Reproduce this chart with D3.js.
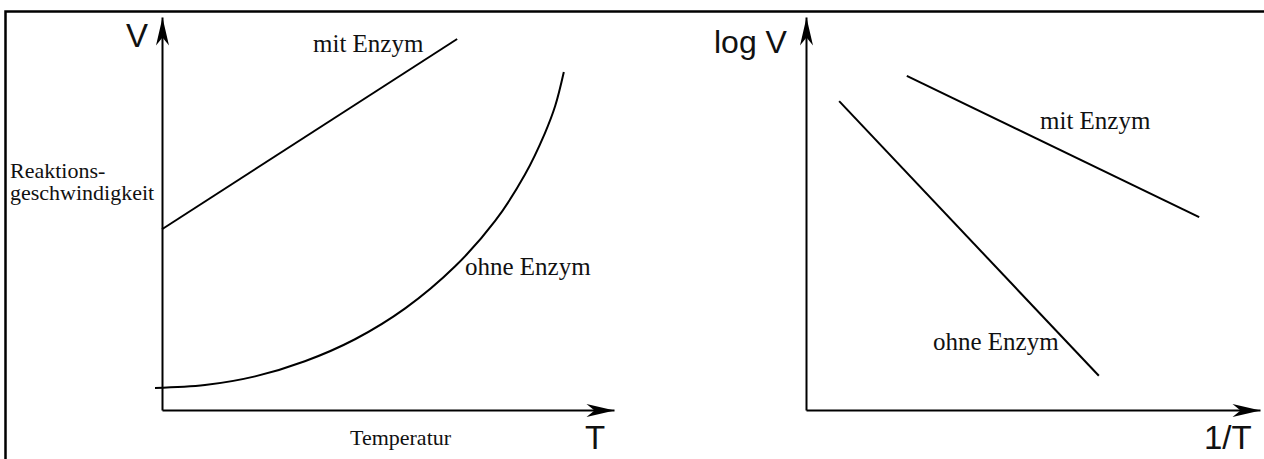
<!DOCTYPE html>
<html>
<head>
<meta charset="utf-8">
<script src="https://cdn.jsdelivr.net/npm/d3@7"></script>
<style>
  html, body { margin: 0; padding: 0; background: #fff; }
  svg { display: block; }
  .serif { font-family: "Liberation Serif", "Times New Roman", serif; fill: #111; }
  .sans { font-family: "Liberation Sans", Arial, sans-serif; fill: #111; }
</style>
</head>
<body>
<div id="chart"></div>
<script>
let width = 1264;
let height = 459;

// left panel: V over T (arbitrary units 0..100)
let mitEnzymLeft = [[0, 46], [65.3, 94.4]];
let ohneEnzymLeft = [
  [-1.55, 5.6], [9.5, 6.34], [20.6, 8.55], [31.6, 12.4], [42.7, 18.0],
  [53.8, 25.85], [64.8, 36.5], [73.7, 48.1], [80.3, 59.9], [84.7, 70.4],
  [87.0, 77.4], [88.9, 86.0]
];

// right panel: log V over 1/T
let mitEnzymRight = [[22.2, 85.0], [86.6, 49.1]];
let ohneEnzymRight = [[7.3, 78.6], [64.5, 8.7]];

let svg = d3.select("#chart")
  .append("svg")
  .attr("width", width)
  .attr("height", height);

// arrow head
svg.append("defs").append("marker")
  .attr("id", "arrow")
  .attr("viewBox", "-30 -8 32 16")
  .attr("refX", 0)
  .attr("refY", 0)
  .attr("markerUnits", "userSpaceOnUse")
  .attr("markerWidth", 32)
  .attr("markerHeight", 16)
  .attr("orient", "auto")
  .append("path")
  .attr("d", "M0,0L-28,-6.5L-20,0L-28,6.5Z")
  .attr("fill", "#000");

// frame (only top and left visible)
svg.append("path")
  .attr("d", "M5.5,470V11.5H1275")
  .attr("fill", "none")
  .attr("stroke", "#000")
  .attr("stroke-width", 2.5);

let xL = d3.scaleLinear().domain([0, 100]).range([162, 614]);
let yL = d3.scaleLinear().domain([0, 100]).range([410, 17]);
let xR = d3.scaleLinear().domain([0, 100]).range([806, 1260]);
let yR = d3.scaleLinear().domain([0, 100]).range([410, 17]);

function drawAxes(x, y) {
  let gx = svg.append("g")
    .attr("transform", "translate(0," + y(0) + ")")
    .call(d3.axisBottom(x).ticks(0).tickSizeOuter(0));
  let gy = svg.append("g")
    .attr("transform", "translate(" + x(0) + ",0)")
    .call(d3.axisLeft(y).ticks(0).tickSizeOuter(0));
  [gx, gy].forEach(function(g) {
    g.select(".domain")
      .attr("stroke", "#000")
      .attr("stroke-width", 2)
      .attr("marker-end", "url(#arrow)");
  });
}

drawAxes(xL, yL);
drawAxes(xR, yR);

function drawLine(data, x, y, curve) {
  let line = d3.line()
    .x(function(d) { return x(d[0]); })
    .y(function(d) { return y(d[1]); })
    .curve(curve || d3.curveLinear);
  svg.append("path")
    .datum(data)
    .attr("d", line)
    .attr("fill", "none")
    .attr("stroke", "#000")
    .attr("stroke-width", 2);
}

drawLine(mitEnzymLeft, xL, yL);
drawLine(ohneEnzymLeft, xL, yL, d3.curveCatmullRom);
drawLine(mitEnzymRight, xR, yR);
drawLine(ohneEnzymRight, xR, yR);

// labels
function label(txt, x, y, cls, size) {
  return svg.append("text")
    .attr("class", cls)
    .attr("x", x)
    .attr("y", y)
    .style("font-size", size + "px")
    .text(txt);
}

label("V", 126, 47, "sans", 33);
label("T", 585, 449, "sans", 33);
label("log V", 714, 53, "sans", 32);
label("1/T", 1204, 449, "sans", 33);

// two-line y label as one text element
let yLabel = svg.append("text")
  .attr("class", "serif")
  .attr("x", 10)
  .attr("y", 178)
  .style("font-size", "22px");
yLabel.append("tspan").attr("x", 10).text("Reaktions-");
yLabel.append("tspan").attr("x", 10).attr("dy", 22).text("geschwindigkeit");

label("Temperatur", 350, 445, "serif", 22);

label("mit Enzym", 313, 52, "serif", 25);
label("ohne Enzym", 465, 275, "serif", 25);
label("mit Enzym", 1040, 129, "serif", 25);
label("ohne Enzym", 933, 350, "serif", 25);
</script>
</body>
</html>
